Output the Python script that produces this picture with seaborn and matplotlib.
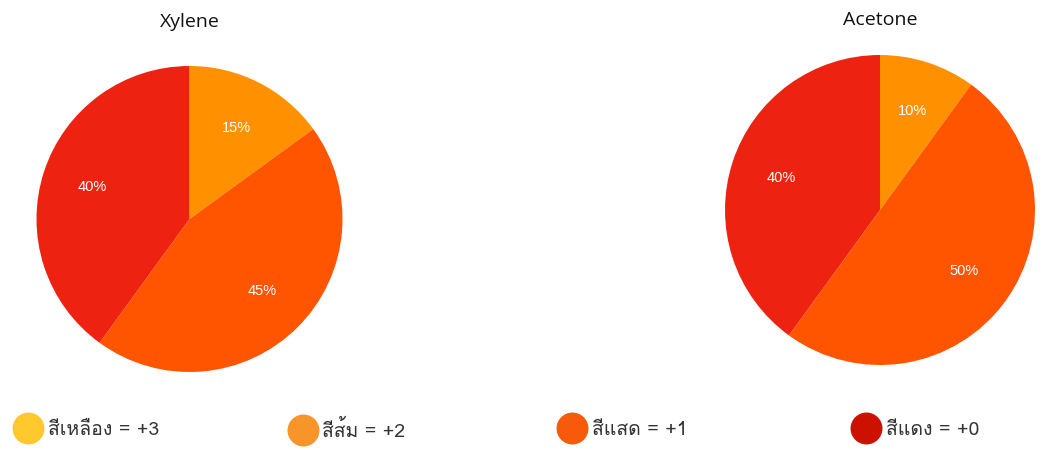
import numpy as np
import pandas as pd
import matplotlib
matplotlib.use('Agg')
import matplotlib.pyplot as plt
from matplotlib import font_manager, ft2font
from matplotlib.lines import Line2D
import seaborn as sns

#################################
# DATA
#################################
solvents = ['Xylene', 'Acetone']
xylene_pct = [15, 45, 40]
acetone_pct = [10, 50, 40]
slice_colors = ['#FF9100', '#FF5500', '#EE2211']

legend_labels = ['สีเหลือง = +3', 'สีส้ม = +2', 'สีแสด = +1', 'สีแดง = +0']
legend_colors = ['#FFC92E', '#F7952A', '#F65A0A', '#CC1100']

#################################
# FONTS (look for something that has Thai glyphs)
#################################
sns.set_style('white')

thai_fonts = []
for f in font_manager.fontManager.ttflist:
    try:
        if 0x0E2A in ft2font.FT2Font(f.fname).get_charmap():
            if f.name not in thai_fonts:
                thai_fonts.append(f.name)
    except Exception:
        pass

plt.rcParams['font.family'] = thai_fonts + ['Liberation Sans', 'DejaVu Sans']

#################################
# PLOT
#################################
fig = plt.figure(figsize=(10.43, 4.5), dpi=100)

# axes boxes (left, bottom, width, height) in figure fractions
boxes = [
    [(189.5 - 153) / 1043, 1 - (219 + 153) / 450, 306 / 1043, 306 / 450],
    [(880 - 155) / 1043, 1 - (210 + 155) / 450, 310 / 1043, 310 / 450],
]
title_y = [22, 20]

df = pd.DataFrame({'Xylene': xylene_pct, 'Acetone': acetone_pct})

for i, name in enumerate(solvents):
    ax = fig.add_axes(boxes[i])
    ax.pie(
        df[name],
        colors=slice_colors,
        startangle=90,
        counterclock=False,
        autopct='%d%%',
        pctdistance=0.67,
        wedgeprops={'linewidth': 0},
        textprops={'color': 'white', 'fontsize': 10.5, 'family': ['Liberation Sans', 'DejaVu Sans']},
    )
    ax.set_xlim(-1, 1)
    ax.set_ylim(-1, 1)
    ax.set_aspect('equal')
    cx = boxes[i][0] + boxes[i][2] / 2
    fig.text(cx, 1 - title_y[i] / 450, name, ha='center', va='center',
             fontsize=14, color='#111111', family=['Open Sans', 'DejaVu Sans'])

# legend items, one per position
legend_x = [12.5, 287.5, 556.5, 850.5]
for i, lab in enumerate(legend_labels):
    h = Line2D([], [], marker='o', linestyle='none', markersize=23,
               markerfacecolor=legend_colors[i], markeredgewidth=0)
    fig.legend([h], [lab], loc='center left',
               bbox_to_anchor=(legend_x[i] / 1043, 1 - 430 / 450),
               frameon=False, fontsize=14, handlelength=1.6, handletextpad=0.2,
               borderaxespad=0, borderpad=0, labelcolor='#333333')

fig.savefig('out.png', dpi=100)
